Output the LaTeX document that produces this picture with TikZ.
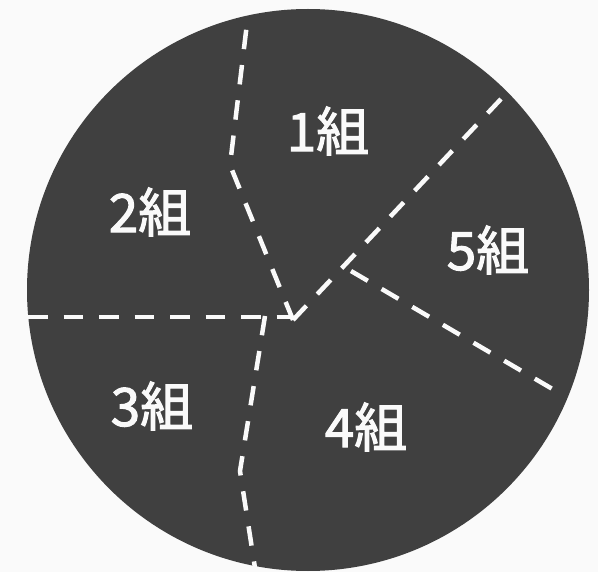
\documentclass[tikz,border=0pt]{standalone}
\usepackage{fontspec}
\newfontfamily\cjk{Noto Sans CJK JP}[FakeBold=2]
\definecolor{bg}{HTML}{FAFAFA}
\definecolor{pie}{HTML}{404040}
\begin{document}
\begin{tikzpicture}[x=1pt,y=-1pt,
  divider/.style={draw=bg, line width=4.5pt, dash pattern=on 19.5pt off 16pt},
  grp/.style={text=bg, font=\cjk\fontsize{53}{60}\selectfont, inner sep=0pt}]
\fill[bg] (0,0) rectangle (598,572);
\useasboundingbox (0,0) rectangle (598,572);
\fill[pie] (308,290) circle[radius=281];
% dividers
\coordinate (c) at (293,320);
\coordinate (ta) at (248,15);
\coordinate (ka) at (230,165);
\coordinate (hl) at (28,317);
\coordinate (hr) at (292,317);
\coordinate (cb) at (265,316);
\coordinate (kb) at (240,471);
\coordinate (bb) at (255,568);
\coordinate (ur) at (507.4,92.2);
\coordinate (es) at (351,271);
\coordinate (ee) at (555,390.5);
\draw[divider] (c) -- (ka) -- (ta);
\draw[divider] (hl) -- (hr);
\draw[divider] (cb) -- (kb) -- (bb);
\draw[divider] (c) -- (ur);
\draw[divider] (es) -- (ee);
% labels
\node[grp] (g1) at (328,131) {1組};
\node[grp] (g2) at (150,212) {2組};
\node[grp] (g3) at (152,406) {3組};
\node[grp] (g4) at (366,427) {4組};
\node[grp] (g5) at (488,250) {5組};
\end{tikzpicture}
\end{document}
